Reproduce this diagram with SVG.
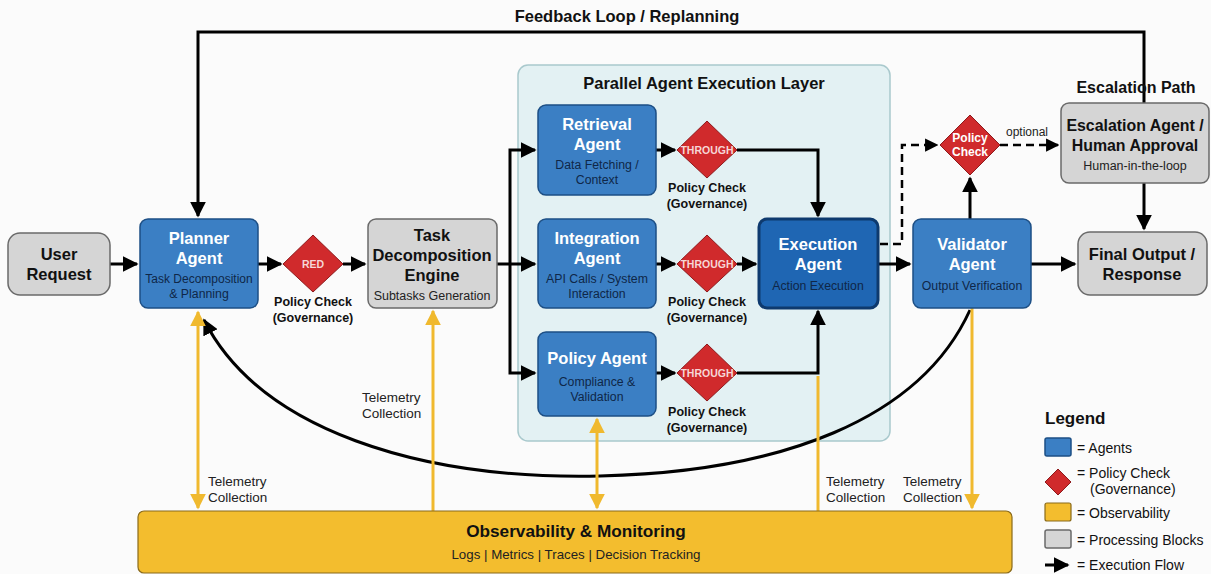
<svg xmlns="http://www.w3.org/2000/svg" width="1211" height="574" viewBox="0 0 1211 574">
  <defs>
    <marker id="ah" viewBox="0 0 10 10" refX="9" refY="5" markerWidth="5.3" markerHeight="5.3" orient="auto-start-reverse" markerUnits="strokeWidth">
      <path d="M0 0 L10 5 L0 10 Z" fill="#000"/>
    </marker>
    <marker id="ahy" viewBox="0 0 10 10" refX="9" refY="5" markerWidth="5.3" markerHeight="5.3" orient="auto-start-reverse" markerUnits="strokeWidth">
      <path d="M0 0 L10 5 L0 10 Z" fill="#f0b92e"/>
    </marker>
    <style>
      text { font-family: "Liberation Sans", Arial, sans-serif; }
      .agent { fill: #3b7fc4; stroke: #1d4f85; stroke-width: 1.5; }
      .exec { fill: #1f66b3; stroke: #0e3a6e; stroke-width: 3; }
      .proc { fill: #d5d5d5; stroke: #6a6a6a; stroke-width: 1.5; }
      .gate { fill: #d02a2c; stroke: #8e1a1c; stroke-width: 1; }
      .obs { fill: #f3bd2e; stroke: #8a6a1a; stroke-width: 1.2; }
      .t-white { fill: #fff; font-weight: bold; font-size: 16.5px; text-anchor: middle; }
      .t-sub { fill: #0f2748; font-size: 12.3px; text-anchor: middle; }
      .t-dark { fill: #111; font-weight: bold; font-size: 16.5px; text-anchor: middle; }
      .t-subg { fill: #222; font-size: 12.5px; text-anchor: middle; }
      .t-gate { fill: #f6d6d6; font-weight: bold; font-size: 10.5px; text-anchor: middle; }
      .t-gl { fill: #111; font-weight: bold; font-size: 12.5px; text-anchor: middle; }
      .t-tel { fill: #222; font-size: 13.5px; }
      .flow { fill: none; stroke: #000; stroke-width: 3; }
      .dash { fill: none; stroke: #000; stroke-width: 2.5; stroke-dasharray: 8 5; }
      .tele { fill: none; stroke: #f0b92e; stroke-width: 3; }
      .t-leg { fill: #111; font-size: 14px; }
    </style>
  </defs>

  <rect width="1211" height="574" fill="#fbfbfb"/>

  <!-- Parallel layer container -->
  <g id="parallel-layer">
    <rect x="518" y="65" width="372" height="376" rx="10" fill="#e3f1f3" stroke="#a9c9cd" stroke-width="1.5"/>
    <text x="704" y="89" class="t-dark">Parallel Agent Execution Layer</text>
  </g>

  <!-- Connectors -->
  <g id="connectors">
    <!-- feedback loop -->
    <path class="flow" d="M1144 103 V32 H198 V216" marker-end="url(#ah)"/>
    <!-- main chain -->
    <path class="flow" d="M110 264 H137" marker-end="url(#ah)"/>
    <path class="flow" d="M258 264 H281" marker-end="url(#ah)"/>
    <path class="flow" d="M343 264 H365" marker-end="url(#ah)"/>
    <!-- fan-out -->
    <path class="flow" d="M497 264 H535" marker-end="url(#ah)"/>
    <path class="flow" d="M510 264 V150 H535" marker-end="url(#ah)"/>
    <path class="flow" d="M510 264 V373 H535" marker-end="url(#ah)"/>
    <!-- agents to gates -->
    <path class="flow" d="M656 150 H675" marker-end="url(#ah)"/>
    <path class="flow" d="M656 264 H675" marker-end="url(#ah)"/>
    <path class="flow" d="M656 373 H675" marker-end="url(#ah)"/>
    <!-- gates to execution -->
    <path class="flow" d="M737 150 H818 V216" marker-end="url(#ah)"/>
    <path class="flow" d="M737 264 H756" marker-end="url(#ah)"/>
    <path class="flow" d="M737 373 H818 V311" marker-end="url(#ah)"/>
    <!-- execution to validator -->
    <path class="flow" d="M878 264 H910" marker-end="url(#ah)"/>
    <!-- optional escalation -->
    <path class="dash" d="M880 244 H902 V145 H937" marker-end="url(#ah)"/>
    <path class="dash" d="M1000 145 H1058" marker-end="url(#ah)"/>
    <text x="1027" y="136" class="t-tel" style="text-anchor: middle; font-size: 12px">optional</text>
    <path class="flow" d="M970 219 V178" marker-end="url(#ah)"/>
    <path class="flow" d="M1144 183 V229" marker-end="url(#ah)"/>
    <path class="flow" d="M1031 264 H1075" marker-end="url(#ah)"/>
    <!-- validator feedback to planner -->
    <path class="flow" d="M970 310 C920 420 780 472 600 476 C420 480 260 430 204 320" marker-end="url(#ah)"/>

    <!-- telemetry -->
    <path class="tele" d="M198 312 V508" marker-start="url(#ahy)" marker-end="url(#ahy)"/>
    <path class="tele" d="M433 511 V311" marker-end="url(#ahy)"/>
    <path class="tele" d="M597 419 V508" marker-start="url(#ahy)" marker-end="url(#ahy)"/>
    <path class="tele" d="M818 376 V511"/>
    <path class="tele" d="M972 308 V508" marker-end="url(#ahy)"/>
    <text class="t-tel" x="208" y="486">Telemetry</text>
    <text class="t-tel" x="208" y="502">Collection</text>
    <text class="t-tel" x="362" y="402">Telemetry</text>
    <text class="t-tel" x="362" y="418">Collection</text>
    <text class="t-tel" x="826" y="486">Telemetry</text>
    <text class="t-tel" x="826" y="502">Collection</text>
    <text class="t-tel" x="903" y="486">Telemetry</text>
    <text class="t-tel" x="903" y="502">Collection</text>
  </g>

  <text x="627" y="22" class="t-dark">Feedback Loop / Replanning</text>
  <text x="1136" y="93" class="t-dark" style="font-size: 16px">Escalation Path</text>

  <g id="user-request">
    <rect class="proc" x="8" y="233" width="102" height="62" rx="12"/>
    <text class="t-dark" x="59" y="260">User</text>
    <text class="t-dark" x="59" y="280">Request</text>
  </g>

  <g id="planner-agent">
    <rect class="agent" x="140" y="219" width="118" height="89" rx="8"/>
    <text class="t-white" x="199" y="244">Planner</text>
    <text class="t-white" x="199" y="264">Agent</text>
    <text class="t-sub" x="199" y="283" style="font-size: 12px">Task Decomposition</text>
    <text class="t-sub" x="199" y="298">&amp; Planning</text>
  </g>

  <g id="gate-planner">
    <polygon class="gate" points="313,235 343,264 313,292 283,264"/>
    <text class="t-gate" x="313" y="268">RED</text>
    <text class="t-gl" x="313" y="306">Policy Check</text>
    <text class="t-gl" x="313" y="322">(Governance)</text>
  </g>

  <g id="task-decomposition">
    <rect class="proc" x="368" y="219" width="129" height="89" rx="8"/>
    <text class="t-dark" x="432" y="241">Task</text>
    <text class="t-dark" x="432" y="261">Decomposition</text>
    <text class="t-dark" x="432" y="281">Engine</text>
    <text class="t-subg" x="432" y="300">Subtasks Generation</text>
  </g>

  <g id="retrieval-agent">
    <rect class="agent" x="538" y="105" width="118" height="90" rx="8"/>
    <text class="t-white" x="597" y="130">Retrieval</text>
    <text class="t-white" x="597" y="150">Agent</text>
    <text class="t-sub" x="597" y="169">Data Fetching /</text>
    <text class="t-sub" x="597" y="184">Context</text>
  </g>

  <g id="gate-retrieval">
    <polygon class="gate" points="707,121 737,150 707,178 677,150"/>
    <text class="t-gate" x="707" y="154">THROUGH</text>
    <text class="t-gl" x="707" y="192">Policy Check</text>
    <text class="t-gl" x="707" y="208">(Governance)</text>
  </g>

  <g id="integration-agent">
    <rect class="agent" x="538" y="219" width="118" height="89" rx="8"/>
    <text class="t-white" x="597" y="244">Integration</text>
    <text class="t-white" x="597" y="264">Agent</text>
    <text class="t-sub" x="597" y="283">API Calls / System</text>
    <text class="t-sub" x="597" y="298">Interaction</text>
  </g>

  <g id="gate-integration">
    <polygon class="gate" points="707,235 737,264 707,292 677,264"/>
    <text class="t-gate" x="707" y="268">THROUGH</text>
    <text class="t-gl" x="707" y="306">Policy Check</text>
    <text class="t-gl" x="707" y="322">(Governance)</text>
  </g>

  <g id="policy-agent">
    <rect class="agent" x="538" y="332" width="118" height="84" rx="8"/>
    <text class="t-white" x="597" y="364">Policy Agent</text>
    <text class="t-sub" x="597" y="386">Compliance &amp;</text>
    <text class="t-sub" x="597" y="401">Validation</text>
  </g>

  <g id="gate-policy">
    <polygon class="gate" points="707,344 737,373 707,401 677,373"/>
    <text class="t-gate" x="707" y="377">THROUGH</text>
    <text class="t-gl" x="707" y="416">Policy Check</text>
    <text class="t-gl" x="707" y="432">(Governance)</text>
  </g>

  <g id="execution-agent">
    <rect class="exec" x="759" y="219" width="119" height="89" rx="8"/>
    <text class="t-white" x="818" y="250">Execution</text>
    <text class="t-white" x="818" y="270">Agent</text>
    <text class="t-sub" x="818" y="290">Action Execution</text>
  </g>

  <g id="validator-agent">
    <rect class="agent" x="913" y="219" width="118" height="89" rx="8"/>
    <text class="t-white" x="972" y="250">Validator</text>
    <text class="t-white" x="972" y="270">Agent</text>
    <text class="t-sub" x="972" y="290">Output Verification</text>
  </g>

  <g id="gate-validator">
    <polygon class="gate" points="970,115 1000,145 970,175 940,145"/>
    <text x="970" y="142" fill="#fff" font-weight="bold" font-size="12" text-anchor="middle">Policy</text>
    <text x="970" y="156" fill="#fff" font-weight="bold" font-size="12" text-anchor="middle">Check</text>
  </g>

  <g id="escalation-agent">
    <rect class="proc" x="1061" y="103" width="148" height="80" rx="8"/>
    <text class="t-dark" x="1135" y="131" style="font-size: 15.9px">Escalation Agent /</text>
    <text class="t-dark" x="1135" y="151" style="font-size: 15.9px">Human Approval</text>
    <text class="t-subg" x="1135" y="170">Human-in-the-loop</text>
  </g>

  <g id="final-output">
    <rect class="proc" x="1078" y="232" width="129" height="63" rx="12"/>
    <text class="t-dark" x="1142" y="260">Final Output /</text>
    <text class="t-dark" x="1142" y="280">Response</text>
  </g>

  <g id="observability">
    <rect class="obs" x="138" y="511" width="874" height="62" rx="6"/>
    <text class="t-dark" x="576" y="537" style="font-size: 17.2px">Observability &amp; Monitoring</text>
    <text class="t-subg" x="576" y="559" style="font-size: 13.3px">Logs | Metrics | Traces | Decision Tracking</text>
  </g>

  <g id="legend">
    <text x="1045" y="424" fill="#111" font-weight="bold" font-size="17">Legend</text>
    <rect class="agent" x="1045" y="438" width="26" height="18" rx="2"/>
    <text class="t-leg" x="1077" y="453">= Agents</text>
    <polygon class="gate" points="1058,469 1071,482 1058,495 1045,482"/>
    <text class="t-leg" x="1077" y="478">= Policy Check</text>
    <text class="t-leg" x="1090" y="494">(Governance)</text>
    <rect class="obs" x="1045" y="503" width="26" height="18" rx="2"/>
    <text class="t-leg" x="1077" y="518">= Observability</text>
    <rect class="proc" x="1045" y="530" width="26" height="18" rx="2"/>
    <text class="t-leg" x="1077" y="545">= Processing Blocks</text>
    <path class="flow" d="M1045 565 H1068" marker-end="url(#ah)"/>
    <text class="t-leg" x="1077" y="570">= Execution Flow</text>
  </g>
</svg>
